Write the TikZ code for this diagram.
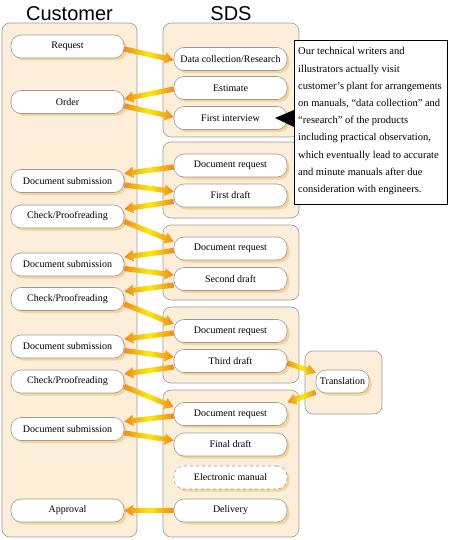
\documentclass[tikz,border=0pt]{standalone}
\usepackage{fontspec}
\setmainfont{Liberation Serif}
\newfontfamily\titlefont{Liberation Sans}
\usetikzlibrary{calc,shadows}
\definecolor{lanefill}{HTML}{FDEEDA}
\definecolor{laneedge}{HTML}{9A9A9A}
\definecolor{shadowc}{HTML}{F8D29A}
\definecolor{arrorange}{HTML}{EE8A1E}
\definecolor{arryellow}{HTML}{F8EA10}
\tikzset{
  lane/.style={draw=laneedge, fill=lanefill, line width=0.6pt, rounded corners=8pt},
  stepbox/.style={draw=laneedge, fill=white, line width=0.6pt, rounded corners=10pt,
    minimum width=113pt, minimum height=23pt, inner sep=1pt,
    font=\fontsize{10}{12}\selectfont,
    drop shadow={shadow xshift=2.5pt, shadow yshift=-2.5pt, fill=shadowc, opacity=1}},
  dashbox/.style={stepbox, dashed},
  title/.style={font=\titlefont\fontsize{20}{24}\selectfont, anchor=base},
  calloutline/.style={font=\fontsize{10.5}{12}\selectfont, anchor=base west, inner sep=0pt},
  garrowfill/.style={draw=none, left color=arrorange, right color=arrorange, middle color=arryellow},
}
\newcommand\garrow[2]{%
  \coordinate (ga-s) at (#1);
  \coordinate (ga-e) at (#2);
  \coordinate (ga-h) at ($(ga-e)!9pt!(ga-s)$);
  \path[garrowfill] ($(ga-s)!2.6pt!90:(ga-e)$) -- ($(ga-h)!2.6pt!-90:(ga-s)$)
    -- ($(ga-h)!5.8pt!-90:(ga-s)$) -- (ga-e) -- ($(ga-h)!5.8pt!90:(ga-s)$)
    -- ($(ga-h)!2.6pt!90:(ga-s)$) -- ($(ga-s)!2.6pt!-90:(ga-e)$) -- cycle;
}
\begin{document}
\begin{tikzpicture}[x=1pt, y=-1pt]
\useasboundingbox (0,0) rectangle (450,540);
% titles
\node[title] (tcust) at (69.5,21) {Customer};
\node[title] (tsds) at (231,21) {SDS};
% lanes
\path[lane] (2,23) rectangle (137,537);
\path[lane] (163,23) rectangle (299,137);
\path[lane] (163,142) rectangle (299,218);
\path[lane] (163,225) rectangle (299,300);
\path[lane] (163,307) rectangle (299,383);
\path[lane] (163,390) rectangle (299,537);
\path[lane] (305,351) rectangle (382,414);
% customer nodes
\node[stepbox] (req)  at (67.5,46.5)  {Request};
\node[stepbox] (ord)  at (67.5,102)   {Order};
\node[stepbox] (ds1)  at (67.5,181)   {Document submission};
\node[stepbox] (ck1)  at (67.5,216.5) {Check/Proofreading};
\node[stepbox] (ds2)  at (67.5,264.5) {Document submission};
\node[stepbox] (ck2)  at (67.5,299)   {Check/Proofreading};
\node[stepbox] (ds3)  at (67.5,346.5) {Document submission};
\node[stepbox] (ck3)  at (67.5,381.5) {Check/Proofreading};
\node[stepbox] (ds4)  at (67.5,429)   {Document submission};
\node[stepbox] (appr) at (67.5,510.5) {Approval};
% SDS nodes
\node[stepbox] (dcr) at (230.5,59)    {Data collection/Research};
\node[stepbox] (est) at (230.5,88)    {Estimate};
\node[stepbox] (fi)  at (230.5,118)   {First interview};
\node[stepbox] (dr1) at (230.5,165.5) {Document request};
\node[stepbox] (fd1) at (230.5,195.5) {First draft};
\node[stepbox] (dr2) at (230.5,248.5) {Document request};
\node[stepbox] (sd)  at (230.5,279)   {Second draft};
\node[stepbox] (dr3) at (230.5,331)   {Document request};
\node[stepbox] (td)  at (230.5,361)   {Third draft};
\node[stepbox] (dr4) at (230.5,414)   {Document request};
\node[stepbox] (fd)  at (230.5,444.5) {Final draft};
\node[dashbox] (em)  at (230.5,477.5) {Electronic manual};
\node[stepbox] (del) at (230.5,510.5) {Delivery};
\node[stepbox, minimum width=53pt] (tr) at (342.5,381.5) {Translation};
% arrows
\garrow{[yshift=-2.5pt]req.east}{[yshift=-1pt]dcr.west}
\garrow{[yshift=-1pt]est.west}{[yshift=3pt]ord.east}
\garrow{[yshift=-4pt]ord.east}{[yshift=1pt]fi.west}
\garrow{[yshift=-1.5pt]dr1.west}{[yshift=7.5pt]ds1.east}
\garrow{[yshift=-4pt]ds1.east}{[yshift=4pt]fd1.west}
\garrow{[yshift=-6pt]fd1.west}{[yshift=7.5pt]ck1.east}
\garrow{[yshift=-5pt]ck1.east}{[yshift=7pt]dr2.west}
\garrow{[yshift=-2pt]dr2.west}{[yshift=7.5pt]ds2.east}
\garrow{[yshift=-4pt]ds2.east}{[yshift=4pt]sd.west}
\garrow{[yshift=-6pt]sd.west}{[yshift=7.5pt]ck2.east}
\garrow{[yshift=-5pt]ck2.east}{[yshift=7pt]dr3.west}
\garrow{[yshift=-2pt]dr3.west}{[yshift=7.5pt]ds3.east}
\garrow{[yshift=-4pt]ds3.east}{[yshift=4pt]td.west}
\garrow{[yshift=-6pt]td.west}{[yshift=7.5pt]ck3.east}
\garrow{[yshift=-5pt]ck3.east}{[yshift=7pt]dr4.west}
\garrow{[yshift=-2pt]dr4.west}{[yshift=7.5pt]ds4.east}
\garrow{[yshift=-4pt]ds4.east}{[yshift=4pt]fd.west}
\garrow{del.west}{appr.east}
\garrow{[yshift=-2pt]td.east}{[yshift=-3pt]tr.north west}
\garrow{[yshift=1pt]tr.south west}{dr4.north east}
% callout
\path[draw=black, line width=1pt, fill=white,
  drop shadow={shadow xshift=1.2pt, shadow yshift=-1.2pt, fill=black!70, opacity=1}]
  (294,41) rectangle (447,204);
\coordinate (ctip) at (275,118);
\fill[black] (ctip) -- (294,110) -- (294,127) -- cycle;
\node[calloutline] (c1) at (298,55)    {Our technical writers and};
\node[calloutline] (c2) at (298,72.2)  {illustrators actually visit};
\node[calloutline] (c3) at (298,89.4)  {customer’s plant for arrangements};
\node[calloutline] (c4) at (298,106.6) {on manuals, “data collection” and};
\node[calloutline] (c5) at (298,123.8) {“research” of the products};
\node[calloutline] (c6) at (298,141)   {including practical observation,};
\node[calloutline] (c7) at (298,158.2) {which eventually lead to accurate};
\node[calloutline] (c8) at (298,175.4) {and minute manuals after due};
\node[calloutline] (c9) at (298,192.6) {consideration with engineers.};
\end{tikzpicture}
\end{document}
